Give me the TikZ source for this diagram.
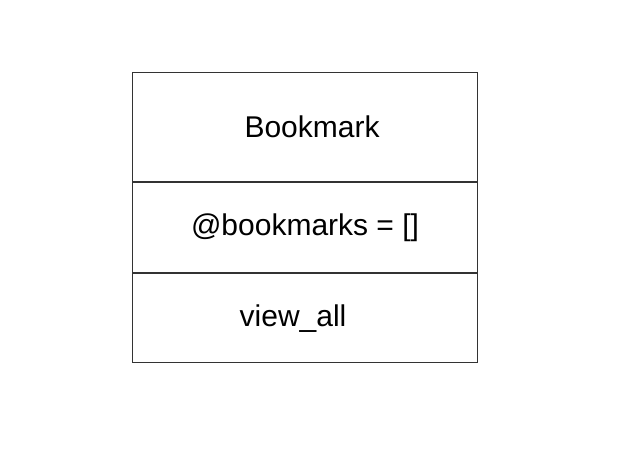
\documentclass[tikz,border=0pt]{standalone}
\usepackage{fontspec}
\setmainfont{Liberation Sans}
\usetikzlibrary{positioning}

\begin{document}
\begin{tikzpicture}[x=1pt,y=-1pt,node distance=0pt,
  part/.style={rectangle,draw=black!80,line width=1.1pt,minimum width=345pt,inner sep=0pt},
  entry/.style={font=\fontsize{30}{34}\selectfont}]
\useasboundingbox (0,0) rectangle (632,458);
\node[part,minimum height=109pt,anchor=north west] (name) at (132,72) {};
\node[part,minimum height=90pt,below=of name] (attrs) {};
\node[part,minimum height=89pt,below=of attrs] (ops) {};
\node[entry] (nametext) at ([xshift=7pt]name.center) {Bookmark};
\node[entry] (attrtext) at (attrs.center) {@bookmarks = []};
\node[entry] (optext) at ([xshift=-12pt]ops.center) {view\_all};
\end{tikzpicture}
\end{document}
